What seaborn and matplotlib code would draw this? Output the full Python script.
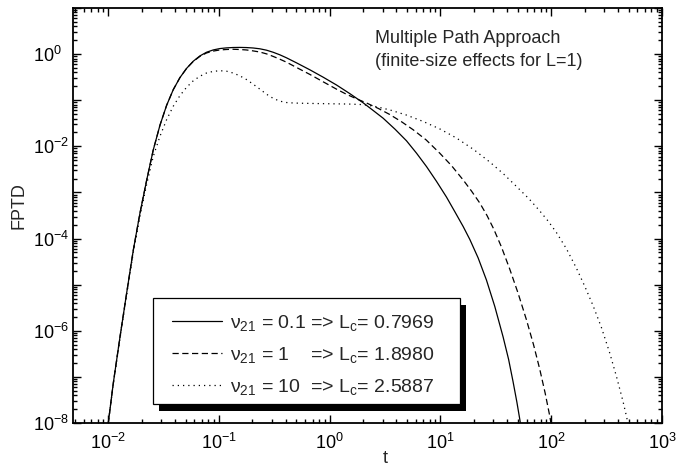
import numpy as np
import pandas as pd
import matplotlib
matplotlib.use("Agg")
import matplotlib.pyplot as plt
from matplotlib.patches import Rectangle
from matplotlib.ticker import LogLocator, FuncFormatter, NullFormatter
import seaborn as sns

# First-passage-time distributions (log10 of t and of FPTD) for three nu_21 values
log_t_nu01 = [-2.012, -2.000, -1.955, -1.894, -1.834, -1.774, -1.714, -1.653, -1.594,
              -1.533, -1.473, -1.413, -1.353, -1.293, -1.233, -1.173, -1.113, -1.053,
              -0.993, -0.933, -0.873, -0.813, -0.753, -0.693, -0.631, -0.571, -0.511,
              -0.451, -0.391, -0.300, -0.180, -0.060, 0.061, 0.180, 0.301, 0.380,
              0.482, 0.590, 0.693, 0.784, 0.874, 0.964, 1.054, 1.130, 1.205, 1.265,
              1.340, 1.415, 1.490, 1.565, 1.615, 1.655, 1.690, 1.716, 1.740]
log_fptd_nu01 = [-8.25, -8.00, -7.14, -6.13, -5.18, -4.25, -3.45, -2.73, -2.08,
                 -1.54, -1.11, -0.77, -0.51, -0.31, -0.155, -0.04, 0.04, 0.09,
                 0.12, 0.135, 0.143, 0.145, 0.142, 0.133, 0.115, 0.085, 0.04,
                 -0.015, -0.08, -0.19, -0.34, -0.50, -0.67, -0.855, -1.055, -1.20,
                 -1.39, -1.63, -1.88, -2.15, -2.44, -2.76, -3.10, -3.42, -3.74, -4.02,
                 -4.42, -4.90, -5.47, -6.13, -6.62, -7.10, -7.55, -7.92, -8.30]

log_t_nu1 = [-2.012, -2.000, -1.955, -1.894, -1.834, -1.774, -1.714, -1.653, -1.594,
             -1.533, -1.473, -1.413, -1.353, -1.293, -1.233, -1.173, -1.113, -1.053,
             -0.993, -0.933, -0.873, -0.813, -0.753, -0.693, -0.631, -0.571, -0.511,
             -0.451, -0.391, -0.300, -0.180, -0.060, 0.061, 0.150, 0.242, 0.332,
             0.440, 0.542, 0.650, 0.753, 0.870, 0.994, 1.100, 1.205, 1.280, 1.355,
             1.420, 1.480, 1.550, 1.625, 1.700, 1.776, 1.840, 1.896, 1.945, 1.986,
             2.015]
log_fptd_nu1 = [-8.25, -8.00, -7.14, -6.13, -5.18, -4.25, -3.45, -2.73, -2.08,
                -1.54, -1.11, -0.77, -0.51, -0.31, -0.16, -0.05, 0.025, 0.065,
                0.09, 0.10, 0.105, 0.10, 0.09, 0.07, 0.045, 0.005, -0.05,
                -0.11, -0.175, -0.29, -0.44, -0.60, -0.76, -0.87, -0.97, -1.06,
                -1.18, -1.31, -1.47, -1.64, -1.86, -2.15, -2.42, -2.73, -2.97, -3.23,
                -3.50, -3.79, -4.18, -4.66, -5.18, -5.76, -6.30, -6.83, -7.35, -7.84,
                -8.25]

log_t_nu10 = [-2.012, -2.000, -1.955, -1.894, -1.834, -1.774, -1.714, -1.653, -1.594,
              -1.533, -1.473, -1.413, -1.353, -1.293, -1.233, -1.173, -1.113, -1.053,
              -0.993, -0.933, -0.873, -0.813, -0.753, -0.693, -0.631, -0.571, -0.511,
              -0.451, -0.391, -0.330, -0.270, -0.120, 0.031, 0.170, 0.301, 0.420,
              0.542, 0.690, 0.843, 1.000, 1.144, 1.300, 1.445, 1.570, 1.686, 1.800,
              1.896, 1.975, 2.047, 2.137, 2.227, 2.302, 2.377, 2.452, 2.528, 2.590,
              2.648, 2.678, 2.710]
log_fptd_nu10 = [-8.25, -8.00, -7.16, -6.16, -5.22, -4.30, -3.52, -2.82, -2.22,
                 -1.78, -1.42, -1.13, -0.90, -0.72, -0.58, -0.48, -0.41, -0.375,
                 -0.36, -0.37, -0.41, -0.47, -0.55, -0.65, -0.76, -0.87, -0.96,
                 -1.02, -1.05, -1.06, -1.065, -1.072, -1.078, -1.083, -1.095, -1.14,
                 -1.21, -1.32, -1.46, -1.63, -1.82, -2.07, -2.34, -2.60, -2.87, -3.14,
                 -3.40, -3.63, -3.87, -4.22, -4.64, -5.03, -5.45, -5.92, -6.48, -7.00,
                 -7.53, -7.84, -8.20]

series_labels = [
    "ν$_{21}$ = 0.1 => L$_c$= 0.7969",
    "ν$_{21}$ = 1    => L$_c$= 1.8980",
    "ν$_{21}$ = 10  => L$_c$= 2.5887",
]

sns.set_style("ticks")
plt.rcParams["font.family"] = ["Liberation Sans", "DejaVu Sans"]
plt.rcParams["mathtext.fontset"] = "custom"
plt.rcParams["mathtext.rm"] = "Liberation Sans"
plt.rcParams["mathtext.it"] = "Liberation Sans:italic"
plt.rcParams["mathtext.default"] = "regular"

fig = plt.figure(figsize=(6.77, 4.73), dpi=100)
ax = fig.add_axes([0.1078, 0.1057, 0.870, 0.8774])
ax.set_xscale("log")
ax.set_yscale("log")

styles = ["-", (0, (5, 2.8)), (0, (1, 3.2))]
curves = [(log_t_nu01, log_fptd_nu01), (log_t_nu1, log_fptd_nu1), (log_t_nu10, log_fptd_nu10)]
handles = []
for (lt, lf), ls, lab in zip(curves, styles, series_labels):
    df = pd.DataFrame({"t": np.power(10.0, lt), "FPTD": np.power(10.0, lf)})
    sns.lineplot(data=df, x="t", y="FPTD", ax=ax, color="black", lw=0.9,
                 linestyle=ls, label=lab, sort=False)
    handles.append(ax.lines[-1])

ax.set_xlim(4.8e-3, 1e3)
ax.set_ylim(1e-8, 1e1)

ax.xaxis.set_major_locator(LogLocator(base=10, numticks=20))
ax.xaxis.set_minor_locator(LogLocator(base=10, subs=np.arange(2, 10), numticks=20))
ax.yaxis.set_major_locator(LogLocator(base=10, numticks=20))
ax.yaxis.set_minor_locator(LogLocator(base=10, subs=np.arange(2, 10), numticks=20))
ax.xaxis.set_minor_formatter(NullFormatter())
ax.yaxis.set_minor_formatter(NullFormatter())


def xfmt(v, pos):
    e = int(round(np.log10(v)))
    return rf"$10^{{{e}}}$"


def yfmt(v, pos):
    e = int(round(np.log10(v)))
    return rf"$10^{{{e}}}$" if e % 2 == 0 else ""


ax.xaxis.set_major_formatter(FuncFormatter(xfmt))
ax.yaxis.set_major_formatter(FuncFormatter(yfmt))

ax.tick_params(which="both", direction="in", top=True, right=True, width=1.0,
               colors="black", labelsize=13)
ax.tick_params(which="major", length=6)
ax.tick_params(which="minor", length=3)
ax.tick_params(axis="x", which="major", pad=7)
ax.tick_params(axis="y", which="major", pad=29)
for lbl in ax.get_yticklabels():
    lbl.set_horizontalalignment("left")
for sp in ax.spines.values():
    sp.set_linewidth(1.3)
    sp.set_color("black")

ax.set_xlabel("t", fontsize=13)
ax.set_ylabel("FPTD", fontsize=13)
ax.xaxis.set_label_coords(0.53, -0.065)
ax.yaxis.set_label_coords(-0.078, 0.523)

ax.text(0.513, 0.947, "Multiple Path Approach\n(finite-size effects for L=1)",
        transform=ax.transAxes, ha="left", va="top", fontsize=13, linespacing=1.45)

# Legend box with a solid drop shadow, then the entries on top of it
box_x0, box_y0, box_w, box_h = 0.1358, 0.0458, 0.5212, 0.2552
ax.add_patch(Rectangle((box_x0 + 0.0105, box_y0 - 0.0160), box_w, box_h,
                       transform=ax.transAxes, facecolor="black", edgecolor="black",
                       lw=0, zorder=4))
ax.add_patch(Rectangle((box_x0, box_y0), box_w, box_h, transform=ax.transAxes,
                       facecolor="white", edgecolor="black", lw=0.9, zorder=4.5))

leg = ax.legend(handles=handles, labels=series_labels, loc="upper left",
                bbox_to_anchor=(0.168, 0.265), borderaxespad=0, borderpad=0,
                frameon=False, fontsize=14, handlelength=2.6, handletextpad=0.4,
                labelspacing=0.62)
leg.set_zorder(5)

fig.savefig("out.png", dpi=100)
